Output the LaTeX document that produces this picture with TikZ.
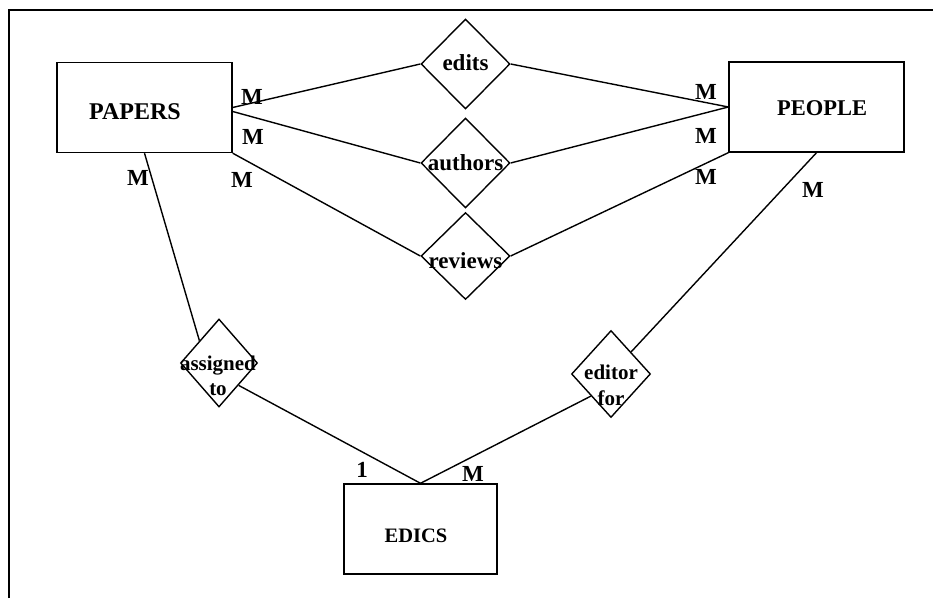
\documentclass[tikz,border=0pt]{standalone}
\usepackage{fontspec}
\setmainfont{Liberation Serif}
\usetikzlibrary{shapes.geometric}
\begin{document}
\begin{tikzpicture}[x=1pt,y=-1pt,
  entity/.style={draw,line width=1.4pt,rectangle,inner sep=0pt,minimum width=175pt,minimum height=90pt},
  rel/.style={draw,line width=1.4pt,diamond,inner sep=0pt,aspect=1},
  conn/.style={line width=1.4pt},
  card/.style={font=\fontsize{23}{26}\selectfont\bfseries,inner sep=0pt},
  rtext/.style={font=\fontsize{23}{26}\selectfont\bfseries,inner sep=0pt,align=center},
  etext/.style={font=\fontsize{24}{28}\selectfont\bfseries,inner sep=0pt}]
\useasboundingbox (0,0) rectangle (933,601);
% frame
\coordinate (fbl) at (9,598);
\coordinate (ftl) at (9,10);
\coordinate (ftr) at (933,10);
\draw[line width=1.8pt] (fbl) -- (ftl) -- (ftr);
% entities
\node[entity] (papers) at (144.5,107.5) {};
\node[etext] (paperst) at (135,112) {PAPERS};
\node[entity] (people) at (816.5,107) {};
\node[etext,font=\fontsize{22.5}{26}\selectfont\bfseries] (peoplet) at (822,108) {PEOPLE};
\node[entity,minimum width=153pt] (edics) at (420.5,529) {};
\node[etext,font=\fontsize{20.5}{24}\selectfont\bfseries] (edicst) at (416,536) {EDICS};
% relationships
\node[rel,minimum width=89pt,minimum height=90pt] (edits) at (465.5,64) {};
\node[rtext] (editst) at (465.5,63) {edits};
\node[rel,minimum width=89pt,minimum height=90pt] (authors) at (465.5,163) {};
\node[rtext] (authorst) at (465.5,163) {authors};
\node[rel,minimum width=89pt,minimum height=87pt] (reviews) at (465.5,256) {};
\node[rtext] (reviewst) at (465.5,261) {reviews};
\node[rel,minimum width=77pt,minimum height=88pt] (assigned) at (219,363) {};
\node[rtext,font=\fontsize{21}{25}\selectfont\bfseries] (assignedt) at (218,376) {assigned\\to};
\node[rel,minimum width=79pt,minimum height=87pt] (editor) at (611,374) {};
\node[rtext,font=\fontsize{21}{26}\selectfont\bfseries] (editort) at (611,385) {editor\\for};
% connectors
\draw[conn] (papers.east) -- (edits.west);
\draw[conn] ([yshift=-4pt]papers.east) -- (authors.west);
\draw[conn] (papers.south east) -- (reviews.west);
\draw[conn] (edits.east) -- (people.west);
\draw[conn] (authors.east) -- (people.west);
\draw[conn] (reviews.east) -- (people.south west);
\draw[conn] (papers.south) -- (assigned.north west);
\draw[conn] (people.south) -- (editor.north east);
\draw[conn] (assigned.south east) -- (edics.north);
\draw[conn] (editor.south west) -- (edics.north);
% cardinalities
\node[card] (c1) at (252,97) {M};
\node[card] (c2) at (253,137) {M};
\node[card] (c3) at (242,180) {M};
\node[card] (c4) at (138,178) {M};
\node[card] (c5) at (706,92) {M};
\node[card] (c6) at (706,136) {M};
\node[card] (c7) at (706,177) {M};
\node[card] (c8) at (813,190) {M};
\node[card] (c9) at (362,470) {1};
\node[card] (c10) at (473,474) {M};
\end{tikzpicture}
\end{document}
